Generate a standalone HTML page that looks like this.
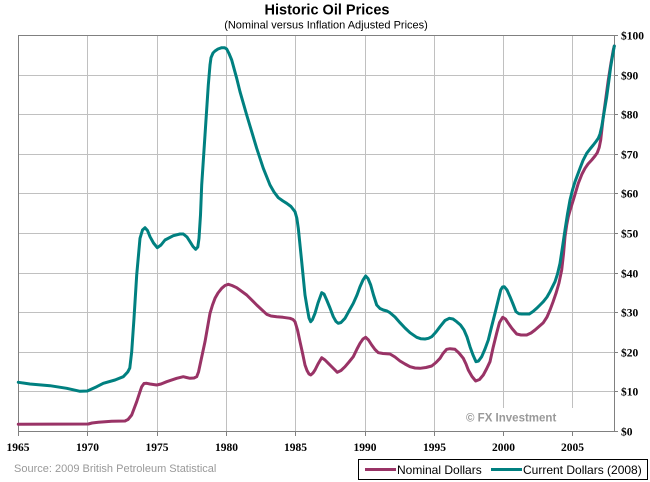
<!DOCTYPE html>
<html>
<head>
<meta charset="utf-8">
<style>
  html,body{margin:0;padding:0;background:#fff;}
  body{width:650px;height:482px;overflow:hidden;}
  svg{display:block;}
</style>
</head>
<body>
<svg width="650" height="482" viewBox="0 0 650 482" xmlns="http://www.w3.org/2000/svg">
  <rect x="0" y="0" width="650" height="482" fill="#ffffff"/>

  <!-- Title -->
  <text x="327" y="14.5" text-anchor="middle" font-family="'Liberation Sans', Arial, sans-serif" font-weight="bold" font-size="14.5" fill="#000">Historic Oil Prices</text>
  <text x="326" y="28.5" text-anchor="middle" font-family="'Liberation Sans', Arial, sans-serif" font-size="11" fill="#000">(Nominal versus Inflation Adjusted Prices)</text>

  <!-- gridlines -->
  <g stroke="#c0c0c0" stroke-width="1" fill="none">
    <line x1="87.5" y1="35" x2="87.5" y2="431"/>
    <line x1="157.5" y1="35" x2="157.5" y2="431"/>
    <line x1="226.5" y1="35" x2="226.5" y2="431"/>
    <line x1="295.5" y1="35" x2="295.5" y2="431"/>
    <line x1="365.5" y1="35" x2="365.5" y2="431"/>
    <line x1="434.5" y1="35" x2="434.5" y2="431"/>
    <line x1="503.5" y1="35" x2="503.5" y2="431"/>
    <line x1="572.5" y1="35" x2="572.5" y2="431"/>
    <line x1="18" y1="75.5" x2="614" y2="75.5"/>
    <line x1="18" y1="114.5" x2="614" y2="114.5"/>
    <line x1="18" y1="154.5" x2="614" y2="154.5"/>
    <line x1="18" y1="193.5" x2="614" y2="193.5"/>
    <line x1="18" y1="233.5" x2="614" y2="233.5"/>
    <line x1="18" y1="273.5" x2="614" y2="273.5"/>
    <line x1="18" y1="312.5" x2="614" y2="312.5"/>
    <line x1="18" y1="352.5" x2="614" y2="352.5"/>
    <line x1="18" y1="391.5" x2="614" y2="391.5"/>
  </g>

  <!-- watermark box -->
  <rect x="452" y="408" width="162" height="23" fill="#ffffff"/>
  <text x="466" y="421.5" font-family="'Liberation Sans', Arial, sans-serif" font-weight="bold" font-size="11.5" fill="#999999">© FX Investment</text>

  <!-- plot border -->
  <rect x="18.5" y="35.5" width="596" height="396" fill="none" stroke="#808080" stroke-width="1"/>

  <!-- ticks -->
  <g stroke="#808080" stroke-width="1">
    <line x1="614" y1="35.5" x2="618" y2="35.5"/>
    <line x1="614" y1="75.5" x2="618" y2="75.5"/>
    <line x1="614" y1="114.5" x2="618" y2="114.5"/>
    <line x1="614" y1="154.5" x2="618" y2="154.5"/>
    <line x1="614" y1="193.5" x2="618" y2="193.5"/>
    <line x1="614" y1="233.5" x2="618" y2="233.5"/>
    <line x1="614" y1="273.5" x2="618" y2="273.5"/>
    <line x1="614" y1="312.5" x2="618" y2="312.5"/>
    <line x1="614" y1="352.5" x2="618" y2="352.5"/>
    <line x1="614" y1="391.5" x2="618" y2="391.5"/>
    <line x1="614" y1="431.5" x2="618" y2="431.5"/>
    <line x1="18.5" y1="431" x2="18.5" y2="436"/>
    <line x1="87.5" y1="431" x2="87.5" y2="436"/>
    <line x1="157.5" y1="431" x2="157.5" y2="436"/>
    <line x1="226.5" y1="431" x2="226.5" y2="436"/>
    <line x1="295.5" y1="431" x2="295.5" y2="436"/>
    <line x1="365.5" y1="431" x2="365.5" y2="436"/>
    <line x1="434.5" y1="431" x2="434.5" y2="436"/>
    <line x1="503.5" y1="431" x2="503.5" y2="436"/>
    <line x1="572.5" y1="431" x2="572.5" y2="436"/>
  </g>

  <!-- Y labels -->
  <g font-family="'Liberation Serif', 'Times New Roman', serif" font-weight="bold" font-size="11.5" fill="#000">
    <text x="621" y="39.5">$100</text>
    <text x="621" y="79.5">$90</text>
    <text x="621" y="118.5">$80</text>
    <text x="621" y="158.5">$70</text>
    <text x="621" y="197.5">$60</text>
    <text x="621" y="237.5">$50</text>
    <text x="621" y="277.5">$40</text>
    <text x="621" y="316.5">$30</text>
    <text x="621" y="356.5">$20</text>
    <text x="621" y="395.5">$10</text>
    <text x="621" y="435.5">$0</text>
  </g>

  <!-- X labels -->
  <g font-family="'Liberation Serif', 'Times New Roman', serif" font-weight="bold" font-size="11.5" fill="#000" text-anchor="middle">
    <text x="18" y="451">1965</text>
    <text x="87.5" y="451">1970</text>
    <text x="157" y="451">1975</text>
    <text x="226.5" y="451">1980</text>
    <text x="295.5" y="451">1985</text>
    <text x="365" y="451">1990</text>
    <text x="434.5" y="451">1995</text>
    <text x="503.5" y="451">2000</text>
    <text x="572.5" y="451">2005</text>
  </g>

  <!-- Nominal (magenta) -->
  <polyline fill="none" stroke="#993366" stroke-width="3" stroke-linejoin="round" stroke-linecap="round" points="
18.3,424.3 88.3,424 92,423 98.3,422.3 111.7,421.3 125,421 128,419.5 131.7,415 136.7,401.7 140,391.7 141.7,386.7 144,383.5 146.7,383.3 150,384 156.7,385 161,384 166.7,381.7 176.7,378.3 183.3,376.7 186.5,377.5 190,378.3 194,378 196.7,376.7 198.5,372 200,365 205,341.7 210,313.3 212.5,305 215,298.3 218,293 221.7,288.3 225,285.5 228.3,284.3 232,285.5 236.7,287.7 246.7,295 256.7,305 266.7,314.3 271,316 276.7,316.7 283,317.3 290,318.3 293,319.5 295,321.7 297.5,330 300,341.7 302.5,353 305,365 307,370.5 309,374 310.7,375 313,373 315,370 318,364 321.7,357.7 325,360 328.3,363.3 333,368 337.3,372.3 341,370.5 345,366.7 349,362 353.3,356.7 357,349 360,343.3 363,339 365.7,337.3 368.5,340 371.7,345 375,349.5 378.3,352.7 383,353.5 390,354 395,357 400,361 405,364 410,366.7 415,368 420,368.3 426,367.5 431.7,366 436,362.5 440,358.3 443,353.5 446.7,349.3 450,348.7 455,349.3 459,353 463.3,358.3 466,364 468.3,370 472,376.5 475.7,381 479.5,379.5 483.3,375 486.5,369 490,361.7 493,348 496.7,333 499.5,322.5 502.7,317.3 505.5,319 508.3,323.3 512,328.5 516.7,334 521,335 526.7,335 531,333 535,330 539,326.5 543.3,322.7 547,317 550,310 553,302 556,293.3 559,283 561.7,270 563.5,254 565,236.7 566.7,225 568.3,216.7 570.5,209 573.3,200 578.3,183.3 582,174 585,168.3 588,164 591.7,160 595,156 597.3,152.7 599.2,147.5 600.7,140 603.3,116.7 606,97 608.3,80 611,63 613.3,50 614.3,46"/>

  <!-- Current (teal) -->
  <polyline fill="none" stroke="#008080" stroke-width="3" stroke-linejoin="round" stroke-linecap="round" points="
18.3,382.3 30,384 50,385.7 66.7,388.3 80,391.3 87.3,391 96.7,386.7 103.3,383.3 115,380 123.3,376.7 127.7,372 129.8,368 131.7,351.7 134,318.3 136.7,275 140,238.3 142.5,230 145,227.7 147.5,230.5 150,236.7 153.5,243 157.3,247.7 161,245 165,240 173.3,235.7 180,234 183.3,234 187,237 190,241.7 193,246.5 195.7,249.3 197.8,247 199,238.3 200.5,215 201.7,185 205,135 208.3,85 210,65 211,57.7 213,53 215,51 218,49 221.7,47.7 224.5,47.7 226.7,49 229,53.5 231.7,60 236.7,78.3 240,91.7 246.7,115 256.7,148.3 263.3,168.3 270,185 274,192 278.3,197.7 283,201 286.7,203.3 291,206.5 295,211.7 296.8,218 298.3,228.3 301.7,261.7 305,295 307,307 309,318 310.7,321.7 312.5,319.5 315,313.3 318,303 321.7,292.7 324,294 326.7,300 330,308 333.3,316.7 336,321.5 338.3,323.3 341,322.5 345,318.3 349,311 353.3,303.3 357,295 360,286.7 363,280 365.7,276 368,278.5 370.7,285 373.5,295 376.7,305 380,308.5 383.3,310 387,311 390,312.7 395,317 400,322.7 405,328 410,332.7 416.7,337.3 421,338.8 425,339 428.5,338.3 431.7,336.7 436,332 440,326.7 445,320.5 449.3,318.3 453,319 456.7,321.7 460.5,325 464,330 467,337 470,346.7 473,355 476,361.7 478.5,361 481.7,356.7 485,349 488.3,340 491.5,327 495,313.3 497.5,303 500.7,290 502.5,287 504.3,286.7 507,290 510,296.7 513,304 516,311.7 519,313.8 521.7,314 529.3,314 533,311.5 536.7,308.3 540,305 543.3,301.7 547,297 550,291.7 555,281.7 557.5,274 560,263.3 562.5,247 565,230 567.5,214 570,200 572.5,190 575,181.7 580,168.3 583,160.5 586.7,153.3 590,149 593.3,145 596,141.5 598.3,138.3 600,134 601.7,126.7 604,113 606.7,96.7 608.7,82 610.7,66.7 612.5,56 614.3,46"/>

  <!-- Source -->
  <text x="14" y="472" font-family="'Liberation Sans', Arial, sans-serif" font-size="11" fill="#999999">Source: 2009 British Petroleum Statistical</text>

  <!-- Legend -->
  <rect x="358.5" y="459.5" width="289" height="20" fill="#ffffff" stroke="#000000" stroke-width="1"/>
  <line x1="365" y1="469.5" x2="396" y2="469.5" stroke="#993366" stroke-width="3"/>
  <text x="397" y="474" font-family="'Liberation Sans', Arial, sans-serif" font-size="12" fill="#000">Nominal Dollars</text>
  <line x1="491" y1="469.5" x2="522" y2="469.5" stroke="#008080" stroke-width="3"/>
  <text x="523" y="474" font-family="'Liberation Sans', Arial, sans-serif" font-size="12" fill="#000">Current Dollars (2008)</text>
</svg>
</body>
</html>
